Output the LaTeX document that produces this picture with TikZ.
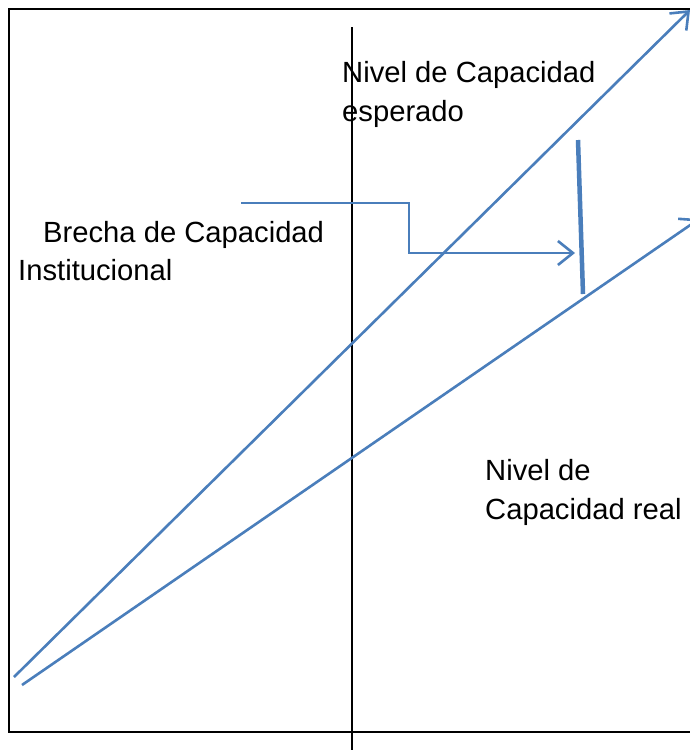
\documentclass[tikz,border=0pt]{standalone}
\usepackage{fontspec}
\setmainfont{Liberation Sans}
\usetikzlibrary{arrows.meta}
\definecolor{officeblue}{HTML}{4A7EBB}
\tikzset{
  blueline/.style={draw=officeblue, line width=2.6pt},
  bluearrow/.style={blueline, -{Straight Barb[length=15pt,width=24pt,line width=2.6pt]}},
  label/.style={inner sep=0pt, anchor=base west, font=\fontsize{29.2}{40}\selectfont},
  frameline/.style={draw=black, line width=2.2pt}
}
\begin{document}
\begin{tikzpicture}[x=1pt,y=-1pt]
\useasboundingbox (0,0) rectangle (690,750);
\clip (0,0) rectangle (690,750);
% frame and axis
\draw[frameline] (9,9) rectangle (730,732);
\coordinate (axtop) at (352,27);
\coordinate (axbot) at (352,752);
\draw[frameline] (axtop) -- (axbot);
% capacity lines
\coordinate (e0) at (14,677);
\coordinate (e1) at (690,10);
\coordinate (r0) at (22,685);
\coordinate (r1) at (699,219);
\draw[bluearrow] (e0) -- (e1);
\draw[bluearrow] (r0) -- (r1);
% gap marker
\coordinate (g0) at (578,140);
\coordinate (g1) at (583,294);
\draw[draw=officeblue, line width=4.5pt] (g0) -- (g1);
% elbow arrow
\coordinate (b0) at (241,203);
\coordinate (b1) at (409,203);
\coordinate (b2) at (409,253);
\coordinate (b3) at (575,253);
\draw[bluearrow, line join=miter] (b0) -- (b1) -- (b2) -- (b3);
% labels
\node[label] (esp1) at (342,82) {Nivel de Capacidad};
\node[label] (esp2) at (342,121) {esperado};
\node[label] (br1) at (43,242) {Brecha de Capacidad};
\node[label] (br2) at (18,280) {Institucional};
\node[label] (re1) at (485,480) {Nivel de};
\node[label] (re2) at (485,519) {Capacidad real};
\end{tikzpicture}
\end{document}
